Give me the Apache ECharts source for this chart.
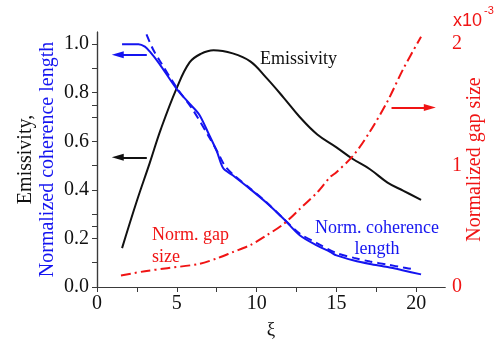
<!DOCTYPE html>
<html>
<head>
<meta charset="utf-8">
<script src="https://cdn.jsdelivr.net/npm/echarts@6/dist/echarts.min.js"></script>
<style>html,body{margin:0;padding:0;background:#fff}#c{width:503px;height:345px}</style>
</head>
<body>
<div id="c"></div>
<script>
// ---- data ----
const emisX = [1.57, 2.5, 3.3, 4.0, 5.0, 5.8, 6.5, 7.3, 8.5, 9.6, 10.6, 11.7, 12.7, 13.8, 15.0, 16.0, 17.1, 18.2, 19.2, 20.3];
const emisY = [0.16, 0.355, 0.51, 0.65, 0.82, 0.925, 0.96, 0.975, 0.962, 0.929, 0.862, 0.779, 0.70, 0.628, 0.575, 0.528, 0.485, 0.43, 0.396, 0.359];

const cohX = [1.57, 2.6, 3.0, 3.3, 3.9, 5.0, 5.8, 6.4, 7.0, 7.5, 7.9, 8.5, 9.6, 10.6, 11.7, 12.7, 13.8, 14.6, 15.0, 16.1, 17.1, 18.2, 19.2, 20.3];
const cohY = [1.0, 1.0, 0.99, 0.97, 0.92, 0.815, 0.755, 0.71, 0.63, 0.56, 0.49, 0.46, 0.403, 0.348, 0.28, 0.213, 0.17, 0.145, 0.13, 0.109, 0.095, 0.082, 0.068, 0.052];

const fitX = [3.1, 3.5, 3.9, 5.0, 6.0, 7.0, 7.6, 8.0, 8.5, 9.6, 10.6, 11.7, 12.7, 13.8, 15.0, 16.1, 17.1, 18.2, 19.2, 19.9];
const fitY = [1.04, 0.98, 0.935, 0.82, 0.73, 0.62, 0.55, 0.5, 0.465, 0.405, 0.35, 0.28, 0.22, 0.18, 0.14, 0.12, 0.105, 0.092, 0.08, 0.072];

const gapX = [1.5, 3.0, 4.4, 6.4, 7.5, 8.5, 9.6, 10.6, 11.7, 12.7, 13.8, 14.6, 15.0, 16.1, 17.1, 18.2, 19.2, 20.3];
const gapY = [0.095, 0.13, 0.155, 0.19, 0.235, 0.287, 0.345, 0.423, 0.52, 0.642, 0.78, 0.905, 0.945, 1.09, 1.28, 1.53, 1.80, 2.06]; // x10^-3

const xLabels = [0, 5, 10, 15, 20];
const xTicks = [0, 2.5, 5, 7.5, 10, 12.5, 15, 17.5, 20];
const yLabels = [0, 0.2, 0.4, 0.6, 0.8, 1.0];
const yTicks = [0, 0.1, 0.2, 0.3, 0.4, 0.5, 0.6, 0.7, 0.8, 0.9, 1.0];
const y2Labels = [0, 1, 2];
const y2Ticks = [0, 0.5, 1, 1.5, 2];

const zip = (a, b) => a.map((v, i) => [v, b[i]]);

const SERIF = '"Liberation Serif", "Times New Roman", serif';
const SANS = '"Liberation Sans", Arial, sans-serif';
const BLUE = '#1414f0';
const RED = '#f01414';
const AX = '#3a3a3a';

const chart = echarts.init(document.getElementById('c'), null, {renderer: 'canvas'});
chart.setOption({
  animation: false,
  backgroundColor: '#fff',
  grid: {left: 97, right: 58, top: 32, bottom: 57, containLabel: false},
  xAxis: [
    {
      type: 'value', position: 'bottom', min: 0, max: 21.8,
      axisLine: {show: true, lineStyle: {color: AX, width: 1.2}},
      axisTick: {show: true, inside: false, length: 5, customValues: xTicks, lineStyle: {color: AX}},
      axisLabel: {customValues: xLabels, fontFamily: SERIF, fontSize: 20, color: '#111', margin: 7},
      splitLine: {show: false},
      name: 'ξ', nameLocation: 'middle', nameGap: 34, nameMoveOverlap: false,
      nameTextStyle: {fontFamily: SERIF, fontSize: 19, color: '#111'}
    },
    {
      type: 'value', position: 'top', min: 0, max: 21.8,
      axisLine: {show: true, lineStyle: {color: AX, width: 1.2}},
      axisTick: {show: true, inside: true, length: 5, customValues: xTicks, lineStyle: {color: AX}},
      axisLabel: {show: false},
      splitLine: {show: false}
    }
  ],
  yAxis: [
    {
      type: 'value', position: 'left', min: 0, max: 1.05,
      axisLine: {show: true, lineStyle: {color: AX, width: 1.2}},
      axisTick: {show: true, inside: false, length: 5, customValues: yTicks, lineStyle: {color: AX}},
      axisLabel: {customValues: yLabels, fontFamily: SERIF, fontSize: 20, color: '#111', margin: 8,
        formatter: v => Number(v).toFixed(1)},
      splitLine: {show: false},
      name: '{a|Emissivity,}\n{b|Normalized coherence length}',
      nameLocation: 'middle', nameRotate: 90, nameGap: 38, nameMoveOverlap: false,
      nameTextStyle: {
        fontFamily: SERIF, fontSize: 20, lineHeight: 22,
        rich: {
          a: {fontFamily: SERIF, fontSize: 20, color: '#111', lineHeight: 22},
          b: {fontFamily: SERIF, fontSize: 20, color: BLUE, lineHeight: 22}
        }
      }
    },
    {
      type: 'value', position: 'right', min: 0, max: 2.1,
      axisLine: {show: true, lineStyle: {color: AX, width: 1.2}},
      axisTick: {show: true, inside: true, length: 5, customValues: y2Ticks, lineStyle: {color: AX}},
      axisLabel: {customValues: y2Labels, fontFamily: SERIF, fontSize: 20, color: RED, margin: 7},
      splitLine: {show: false},
      name: 'Normalized gap size', nameLocation: 'middle', nameRotate: 90, nameGap: 20, nameMoveOverlap: false,
      nameTextStyle: {fontFamily: SERIF, fontSize: 20, color: RED}
    }
  ],
  graphic: [
    {type: 'text', x: 260, y: 50, style: {text: 'Emissivity', font: '18px ' + SERIF, fill: '#111'}},
    {type: 'text', x: 152, y: 224, style: {text: 'Norm. gap\nsize', font: '18px ' + SERIF, fill: RED, lineHeight: 22}},
    {type: 'text', x: 377, y: 218, style: {text: 'Norm. coherence\nlength', font: '18px ' + SERIF, fill: BLUE, lineHeight: 21, align: 'center'}},
    {type: 'text', x: 453, y: 12, style: {text: 'x10', font: '18px ' + SANS, fill: RED}},
    {type: 'text', x: 484, y: 5, style: {text: '-3', font: '11px ' + SANS, fill: RED}}
  ],
  series: [
    {
      name: 'Emissivity', type: 'line', xAxisIndex: 0, yAxisIndex: 0,
      data: zip(emisX, emisY), showSymbol: false, smooth: 0.4,
      lineStyle: {color: '#111', width: 2}, itemStyle: {color: '#111'},
      markLine: {
        silent: true, symbol: ['none', 'triangle'], symbolSize: [7, 12],
        label: {show: false}, lineStyle: {color: '#111', width: 2, type: 'solid'},
        data: [[{coord: [3.12, 0.534]}, {coord: [1.3, 0.534]}]]
      }
    },
    {
      name: 'Coherence', type: 'line', xAxisIndex: 0, yAxisIndex: 0,
      data: zip(cohX, cohY), showSymbol: false, smooth: 0.3,
      lineStyle: {color: BLUE, width: 2}, itemStyle: {color: BLUE},
      markLine: {
        silent: true, symbol: ['none', 'triangle'], symbolSize: [7, 12],
        label: {show: false}, lineStyle: {color: BLUE, width: 2, type: 'solid'},
        data: [[{coord: [3.12, 0.956]}, {coord: [1.3, 0.956]}]]
      }
    },
    {
      name: 'Coherence fit', type: 'line', xAxisIndex: 0, yAxisIndex: 0,
      data: zip(fitX, fitY), showSymbol: false, smooth: 0.3,
      lineStyle: {color: BLUE, width: 2, type: [8, 5]}, itemStyle: {color: BLUE}
    },
    {
      name: 'Gap', type: 'line', xAxisIndex: 0, yAxisIndex: 1,
      data: zip(gapX, gapY), showSymbol: false, smooth: 0.3,
      lineStyle: {color: RED, width: 2, type: [10, 4, 2, 4]}, itemStyle: {color: RED},
      markLine: {
        silent: true, symbol: ['none', 'triangle'], symbolSize: [7, 12],
        label: {show: false}, lineStyle: {color: RED, width: 2, type: 'solid'},
        data: [[{coord: [18.45, 1.478]}, {coord: [20.85, 1.478]}]]
      }
    }
  ]
});
</script>
</body>
</html>
